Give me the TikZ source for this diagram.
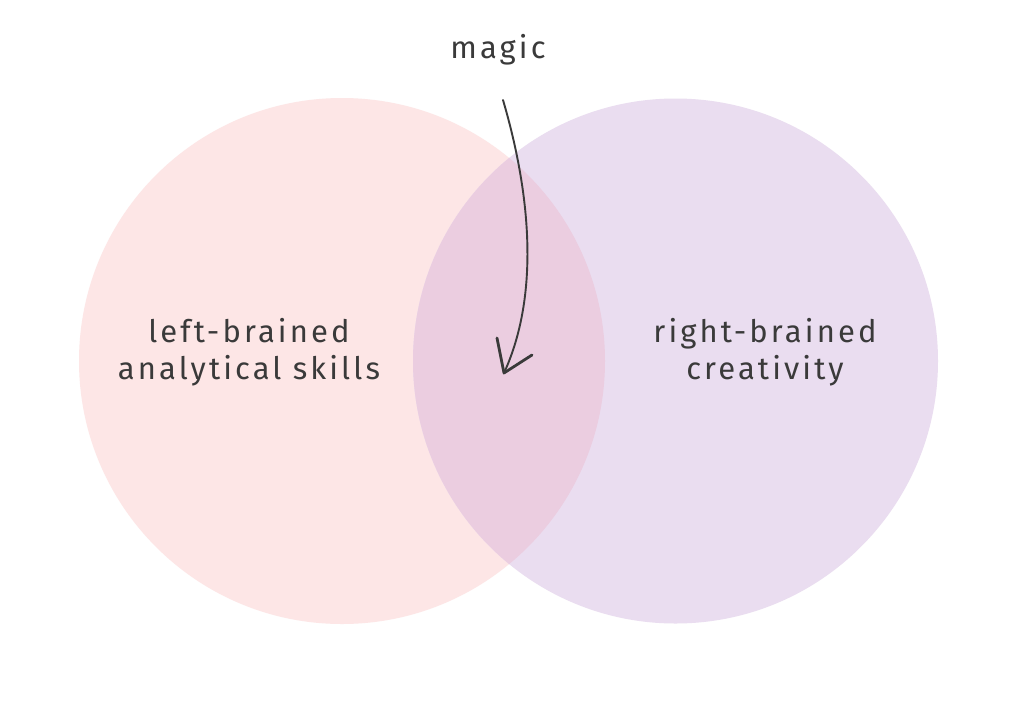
\documentclass[tikz,border=0pt]{standalone}
\usepackage{fontspec}
\setmainfont{Fira Sans}[LetterSpace=10]
\definecolor{leftfill}{HTML}{FDE6E6}
\definecolor{rightfill}{HTML}{EADDF0}
\definecolor{overlapfill}{HTML}{EBCDE0}
\definecolor{ink}{HTML}{3A3A3A}
\begin{document}
\begin{tikzpicture}[x=1pt,y=-1pt,
  lbl/.style={text=ink,font=\fontsize{31}{37}\selectfont,align=center,inner sep=0pt},
  ink line/.style={draw=ink,line width=1.9pt,line cap=round,line join=round}]
\useasboundingbox (0,0) rectangle (1021,716);
\fill[white] (0,0) rectangle (1021,716);
\path[fill=leftfill] (342,361) circle[radius=263];
\path[fill=rightfill] (675.5,361) circle[radius=262.5];
\begin{scope}
  \clip (342,361) circle[radius=263];
  \path[fill=overlapfill] (675.5,361) circle[radius=262.5];
\end{scope}
\node[lbl] (magic) at (498,50) {magic};
\node[lbl] (left) at (249,352) {left-brained\\analytical skills};
\node[lbl] (right) at (765,352) {right-brained\\creativity};
\coordinate (start) at (503,100);
\coordinate (tip) at (504,373);
\coordinate (barbA) at (497,338);
\coordinate (barbB) at (532,355);
\draw[ink line] (start) .. controls (528,185) and (542,290) .. (tip);
\draw[ink line,line width=2.8pt] (barbA) -- (tip) -- (barbB);
\end{tikzpicture}
\end{document}
